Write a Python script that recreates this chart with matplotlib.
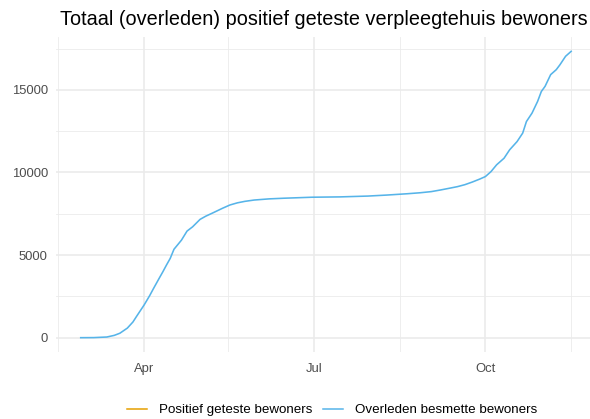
import matplotlib
matplotlib.use("Agg")
import matplotlib.pyplot as plt
import matplotlib.dates as mdates
from matplotlib.lines import Line2D
import pandas as pd

plt.rcParams['font.family'] = ['Liberation Sans', 'DejaVu Sans']

title = "Totaal (overleden) positief geteste verpleegtehuis bewoners"
series_names = ["Positief geteste bewoners", "Overleden besmette bewoners"]
series_colors = ["#E69F00", "#56B4E9"]

dates = ["2020-02-27", "2020-03-05", "2020-03-12", "2020-03-16", "2020-03-19",
         "2020-03-23", "2020-03-26", "2020-03-28", "2020-04-01", "2020-04-04",
         "2020-04-06", "2020-04-09", "2020-04-11", "2020-04-13", "2020-04-15",
         "2020-04-17", "2020-04-21", "2020-04-24", "2020-04-27", "2020-05-01",
         "2020-05-04", "2020-05-08", "2020-05-13", "2020-05-17", "2020-05-21",
         "2020-05-25", "2020-05-30", "2020-06-07", "2020-06-15", "2020-06-30",
         "2020-07-15", "2020-07-30", "2020-08-09", "2020-08-20", "2020-08-27",
         "2020-09-02", "2020-09-07", "2020-09-12", "2020-09-16", "2020-09-20",
         "2020-09-24", "2020-09-28", "2020-10-01", "2020-10-04", "2020-10-07",
         "2020-10-11", "2020-10-14", "2020-10-18", "2020-10-21", "2020-10-23",
         "2020-10-26", "2020-10-29", "2020-10-31", "2020-11-02", "2020-11-05",
         "2020-11-08", "2020-11-10", "2020-11-13", "2020-11-16"]
overleden = [0, 5, 40, 140, 270,
             580, 950, 1300, 1980, 2550,
             2970, 3580, 3980, 4400, 4800,
             5350, 5900, 6450, 6710, 7160,
             7350, 7560, 7830, 8030, 8160,
             8250, 8330, 8400, 8440, 8500,
             8520, 8570, 8630, 8710, 8770,
             8840, 8940, 9050, 9140, 9260,
             9420, 9600, 9750, 10050, 10460,
             10860, 11370, 11870, 12380, 13080,
             13590, 14300, 14900, 15210, 15920,
             16220, 16520, 17030, 17330]

y_major = [0, 5000, 10000, 15000]
y_minor = [2500, 7500, 12500, 17500]
x_major = ["2020-04-01", "2020-07-01", "2020-10-01"]
x_major_labels = ["Apr", "Jul", "Oct"]
x_minor = ["2020-02-15", "2020-05-16", "2020-08-16", "2020-11-16"]

W, H = 590, 419
fig = plt.figure(figsize=(W / 100, H / 100), dpi=100)
left, right, top, bottom = 56.2, 595.7, 37, 352
ax = fig.add_axes([left / W, 1 - bottom / H, (right - left) / W, (bottom - top) / H])

d = pd.to_datetime(dates)
ax.plot([], [], color=series_colors[0], lw=1.1, label=series_names[0])
ax.plot(d, overleden, color=series_colors[1], lw=1.15, label=series_names[1], zorder=3)

dnum = mdates.date2num(d)
span = dnum.max() - dnum.min()
ax.set_xlim(dnum.min() - 0.05 * span, dnum.max() + 0.05 * span)
ymax = max(overleden)
ax.set_ylim(-0.05 * ymax, ymax * 1.05)

ax.xaxis.set_major_locator(plt.FixedLocator(mdates.date2num(pd.to_datetime(x_major))))
ax.xaxis.set_major_formatter(plt.FixedFormatter(x_major_labels))
ax.xaxis.set_minor_locator(plt.FixedLocator(mdates.date2num(pd.to_datetime(x_minor))))
ax.yaxis.set_major_locator(plt.FixedLocator(y_major))
ax.yaxis.set_major_formatter(plt.FixedFormatter([str(v) for v in y_major]))
ax.yaxis.set_minor_locator(plt.FixedLocator(y_minor))

ax.grid(which='major', color='#EBEBEB', lw=1.2)
ax.grid(which='minor', color='#EBEBEB', lw=0.6)
ax.set_axisbelow(True)
for s in ax.spines.values():
    s.set_visible(False)
ax.tick_params(which='both', length=0)
ax.tick_params(axis='x', labelsize=9.4, labelcolor='#4D4D4D', pad=8)
ax.tick_params(axis='y', labelsize=9.4, labelcolor='#4D4D4D', pad=6)

fig.text(60 / W, 1 - 25 / H, title, fontsize=14.3, color='black', ha='left', va='baseline')

handles = [Line2D([], [], color=c, lw=1.1) for c in series_colors]
fig.legend(handles, series_names, loc='center', bbox_to_anchor=(332 / W, 1 - 410 / H),
           ncol=2, frameon=False, fontsize=9.6, handlelength=1.5, handletextpad=0.85,
           columnspacing=0.85, borderpad=0)

fig.savefig("out.png", dpi=100)
